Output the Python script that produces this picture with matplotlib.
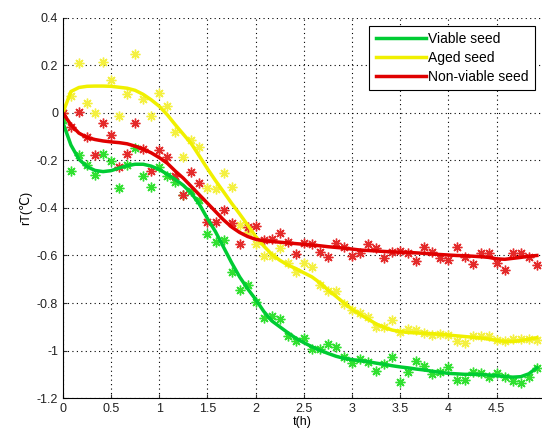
import matplotlib
matplotlib.use("Agg")
import matplotlib.pyplot as plt
import numpy as np

plt.rcParams['font.family'] = ['Liberation Sans', 'DejaVu Sans']

# sample times, every 5 minutes (h)
t = np.arange(60) / 12.0

# measured points
viable_pts = [-0.03, -0.243, -0.177, -0.219, -0.263, -0.174, -0.204, -0.317, -0.221, -0.148,
              -0.265, -0.312, -0.226, -0.265, -0.29, -0.345, -0.329, -0.366, -0.51, -0.542,
              -0.536, -0.669, -0.747, -0.724, -0.794, -0.865, -0.856, -0.867, -0.939, -0.958,
              -0.949, -0.995, -0.995, -0.973, -0.987, -1.026, -1.054, -1.037, -1.047, -1.084,
              -1.057, -1.026, -1.133, -1.089, -1.043, -1.065, -1.099, -1.089, -1.071, -1.124,
              -1.124, -1.089, -1.096, -1.11, -1.096, -1.11, -1.127, -1.138, -1.11, -1.075]
aged_pts = [0.0, 0.07, 0.21, 0.04, 0.0, 0.215, 0.14, -0.015, 0.08, 0.25,
            0.06, -0.012, 0.083, 0.03, -0.082, -0.185, -0.114, -0.145, -0.317, -0.321,
            -0.254, -0.31, -0.47, -0.5, -0.55, -0.602, -0.603, -0.57, -0.63, -0.668,
            -0.633, -0.647, -0.724, -0.748, -0.748, -0.805, -0.829, -0.84, -0.857, -0.901,
            -0.9, -0.873, -0.923, -0.911, -0.915, -0.926, -0.936, -0.93, -0.936, -0.959,
            -0.97, -0.94, -0.94, -0.94, -0.956, -0.96, -0.95, -0.95, -0.95, -0.955]
nonviable_pts = [0.0, -0.058, 0.005, -0.1, -0.176, -0.042, -0.095, -0.228, -0.172, -0.042,
                 -0.152, -0.246, -0.156, -0.184, -0.264, -0.345, -0.247, -0.293, -0.458, -0.458,
                 -0.408, -0.465, -0.551, -0.479, -0.474, -0.535, -0.532, -0.504, -0.544, -0.595,
                 -0.549, -0.552, -0.584, -0.608, -0.546, -0.566, -0.602, -0.591, -0.553, -0.57,
                 -0.612, -0.584, -0.58, -0.591, -0.622, -0.566, -0.584, -0.612, -0.619, -0.563,
                 -0.605, -0.636, -0.588, -0.591, -0.633, -0.661, -0.588, -0.588, -0.605, -0.64]

# fitted curves
viable_fit = [-0.04, -0.135, -0.195, -0.226, -0.242, -0.247, -0.243, -0.232, -0.222, -0.216,
              -0.216, -0.224, -0.238, -0.258, -0.28, -0.305, -0.338, -0.385, -0.445, -0.5,
              -0.565, -0.63, -0.69, -0.74, -0.785, -0.835, -0.875, -0.9, -0.925, -0.948,
              -0.967, -0.984, -0.999, -1.012, -1.024, -1.033, -1.038, -1.043, -1.047, -1.053,
              -1.058, -1.064, -1.069, -1.073, -1.078, -1.082, -1.087, -1.092, -1.096, -1.098,
              -1.1, -1.1, -1.101, -1.103, -1.106, -1.109, -1.112, -1.11, -1.098, -1.072]
aged_fit = [0.0, 0.09, 0.107, 0.112, 0.113, 0.113, 0.112, 0.108, 0.104, 0.095,
            0.078, 0.055, 0.028, -0.008, -0.05, -0.09, -0.13, -0.182, -0.235, -0.285,
            -0.332, -0.38, -0.425, -0.472, -0.52, -0.56, -0.595, -0.62, -0.64, -0.655,
            -0.673, -0.69, -0.715, -0.745, -0.772, -0.8, -0.826, -0.848, -0.868, -0.888,
            -0.903, -0.914, -0.92, -0.924, -0.926, -0.927, -0.929, -0.932, -0.935, -0.938,
            -0.941, -0.944, -0.947, -0.952, -0.957, -0.962, -0.962, -0.958, -0.952, -0.946]
nonviable_fit = [0.0, -0.05, -0.085, -0.103, -0.112, -0.118, -0.122, -0.125, -0.13, -0.14,
                 -0.152, -0.168, -0.188, -0.212, -0.245, -0.275, -0.31, -0.345, -0.38, -0.415,
                 -0.45, -0.48, -0.503, -0.52, -0.532, -0.538, -0.541, -0.544, -0.547, -0.55,
                 -0.553, -0.556, -0.559, -0.563, -0.566, -0.569, -0.573, -0.577, -0.579, -0.581,
                 -0.583, -0.585, -0.586, -0.587, -0.589, -0.591, -0.594, -0.596, -0.598, -0.6,
                 -0.601, -0.603, -0.605, -0.608, -0.614, -0.616, -0.612, -0.608, -0.603, -0.6]

xticks = [0, 0.5, 1, 1.5, 2, 2.5, 3, 3.5, 4, 4.5]
xticklabels = ['0', '0.5', '1', '1.5', '2', '2.5', '3', '3.5', '4', '4.5']
yticks = [0.4, 0.2, 0, -0.2, -0.4, -0.6, -0.8, -1, -1.2]
yticklabels = ['0.4', '0.2', '0', '-0.2', '-0.4', '-0.6', '-0.8', '-1', '-1.2']

fig = plt.figure(figsize=(5.42, 4.36), dpi=100)
ax = fig.add_axes([0.116, 0.087, 0.884, 0.872])

star = (8, 2, 0)
ax.plot(t, viable_pts, linestyle='none', marker=star, ms=7, mew=1.0, color='#30e030')
ax.plot(t, aged_pts, linestyle='none', marker=star, ms=7, mew=1.0, color='#f4f040')
ax.plot(t, nonviable_pts, linestyle='none', marker=star, ms=7, mew=1.0, color='#e42a2a')

ax.plot(t, viable_fit, color='#00cc33', lw=2.5, label='Viable seed')
ax.plot(t, aged_fit, color='#f0f000', lw=2.5, label='Aged seed')
ax.plot(t, nonviable_fit, color='#e00000', lw=2.5, label='Non-viable seed')

ax.set_xlim(0, 4.97)
ax.set_ylim(-1.2, 0.4)
ax.set_xticks(xticks)
ax.set_xticklabels(xticklabels)
ax.set_yticks(yticks)
ax.set_yticklabels(yticklabels)
ax.tick_params(direction='in', labelsize=9, length=3, colors='#333333', labelcolor='#222222')
ax.grid(True, linestyle=(0, (1, 3)), color='black', linewidth=0.8)
ax.spines['top'].set_visible(False)
ax.spines['right'].set_visible(False)

ax.set_xlabel('t(h)', fontsize=9, labelpad=1)
ax.set_ylabel('rT(℃)', fontsize=9, labelpad=3)

leg = ax.legend(loc='upper right', bbox_to_anchor=(1.0, 0.997), fontsize=10,
                handlelength=3.6, handletextpad=0.2, borderpad=0.45,
                labelspacing=0.35, fancybox=False, framealpha=1)
leg.get_frame().set_edgecolor('black')
leg.get_frame().set_linewidth(0.8)

plt.savefig('out.png', dpi=100)
